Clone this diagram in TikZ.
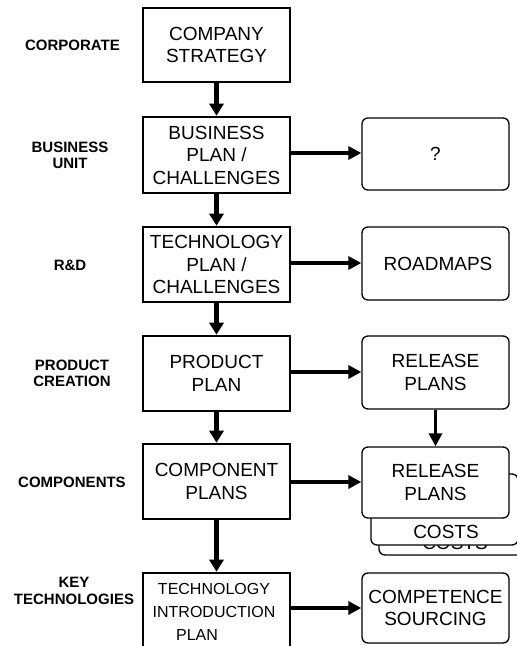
\documentclass[tikz,border=0pt]{standalone}
\usepackage{fontspec}
\setmainfont{Liberation Sans}
\usetikzlibrary{arrows.meta}
\begin{document}
\begin{tikzpicture}[x=1pt,y=-1pt,
  plan/.style={draw, line width=2.6pt, fill=white, inner sep=0pt,
    minimum width=147pt, align=center, font=\fontsize{19}{22.5}\selectfont},
  output/.style={draw, line width=1.3pt, rounded corners=6pt, fill=white,
    inner sep=0pt, minimum width=147pt, align=center,
    font=\fontsize{19}{22.5}\selectfont},
  level/.style={align=center, font=\fontsize{15}{16.5}\selectfont\bfseries},
  flow/.style={line width=4.3pt, -{Triangle[length=12pt,width=14pt]}},
  side/.style={line width=3.8pt, -{Triangle[length=13pt,width=13pt]}}]
\useasboundingbox (0,0) rectangle (517,646);
\clip (0,0) rectangle (517,646);

% organisation levels
\node[level] (lcorp) at (72.5,45) {CORPORATE};
\node[level] (lbu)   at (70,155.5) {BUSINESS\\UNIT};
\node[level] (lrd)   at (70,265) {R\&D};
\node[level] (lpc)   at (72,373.5) {PRODUCT\\CREATION};
\node[level] (lcomp) at (72,482.5) {COMPONENTS};
\node[level] (lkey)  at (74,591) {KEY\\TECHNOLOGIES};

% planning chain
\node[plan, minimum height=74pt] (cs) at (216.5,45) {COMPANY\\STRATEGY};
\node[plan, minimum height=76pt] (bp) at (216.5,155) {BUSINESS\\PLAN /\\CHALLENGES};
\node[plan, minimum height=75pt] (tp) at (216.5,264.5) {TECHNOLOGY\\PLAN /\\CHALLENGES};
\node[plan, minimum height=75pt] (pp) at (216.5,373.5) {PRODUCT\\PLAN};
\node[plan, minimum height=75pt] (cp) at (216.5,481.5) {COMPONENT\\PLANS};
\node[plan, minimum height=90pt] (ti) at (216.5,618) {};
\node[align=center, inner sep=0pt, font=\fontsize{16}{23}\selectfont]
  (titext) at (214,611.5) {TECHNOLOGY\\INTRODUCTION\\PLAN\hspace*{34pt}};

% results
\node[output, minimum height=72pt] (q)  at (435.5,154) {?};
\node[output, minimum height=73pt] (rm) at (435.5,263.5) {\hspace*{5pt}ROADMAPS};
\node[output, minimum height=73pt] (rp) at (435.5,372.5) {RELEASE\\PLANS};

% stacked component release plans with costs sheets
\node[output, minimum height=71pt] (cost3) at (452.5,519.5) {};
\node[inner sep=0pt, font=\fontsize{19}{22.5}\selectfont, anchor=base]
  (cost3text) at (455,549) {COSTS};
\node[output, minimum height=71pt] (cost2) at (444.5,509.5) {};
\node[inner sep=0pt, font=\fontsize{19}{22.5}\selectfont, anchor=base]
  (cost2text) at (446,538) {COSTS};
\node[output, minimum height=71pt] (rc) at (435.5,482.5) {RELEASE\\PLANS};

\node[output, minimum height=70pt] (cso) at (435.5,608) {COMPETENCE\\SOURCING};

% connectors
\draw[flow] (cs) -- (bp);
\draw[flow] (bp) -- (tp);
\draw[flow] (tp) -- (pp);
\draw[flow] (pp) -- (cp);
\draw[flow] (cp) -- (ti.north);
\draw[side] (bp.east |- 0,153) -- (q.west |- 0,153);
\draw[side] (tp.east |- 0,263) -- (rm.west |- 0,263);
\draw[side] (pp.east |- 0,372) -- (rp.west |- 0,372);
\draw[side] (cp.east |- 0,482) -- (rc.west |- 0,482);
\draw[side] (ti.east |- 0,608) -- (cso.west |- 0,608);
\draw[side] (rp) -- (rc);
\end{tikzpicture}
\end{document}
